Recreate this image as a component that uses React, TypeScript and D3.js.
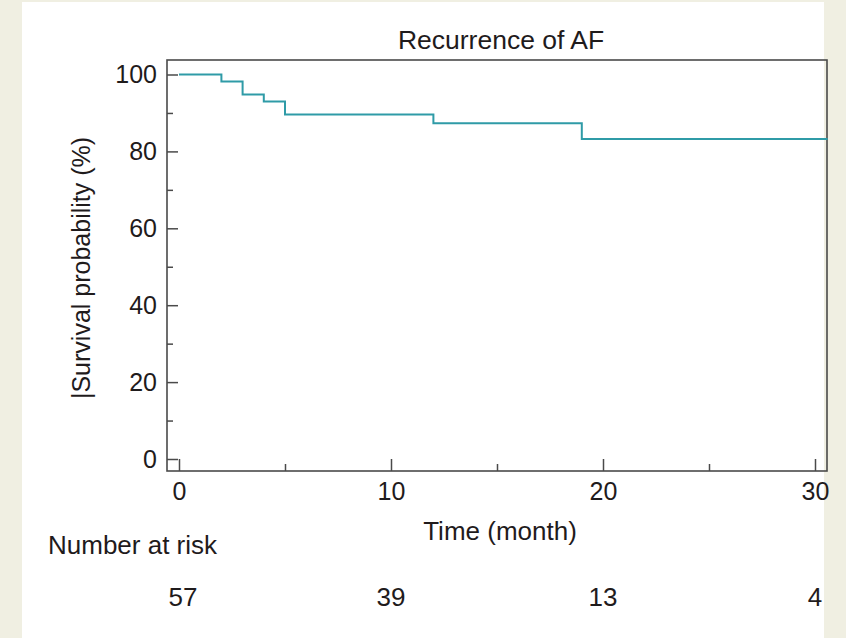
import React, { useEffect, useRef } from "react";
import * as d3 from "d3";

// Kaplan-Meier steps
const eventTimes = [0, 2, 3, 4, 5, 12, 19];
const survival = [100, 98.2, 94.8, 93.0, 89.6, 87.3, 83.2];
const lastFollowUp = 30.6;

const xMajorTicks = [0, 10, 20, 30];
const xMinorTicks = [5, 15, 25];
const yMajorTicks = [0, 20, 40, 60, 80, 100];
const yMinorTicks = [10, 30, 50, 70, 90];

const riskTimes = [0, 10, 20, 30];
const riskCounts = [57, 39, 13, 4];

const FONT = "'Liberation Sans', Arial, Helvetica, sans-serif";

const App = () => {
  const svgRef = useRef<SVGSVGElement>(null);

  useEffect(() => {
    const width = 846,
      height = 638;
    const frame = { left: 167, right: 827, top: 60, bottom: 471 };

    const x = d3.scaleLinear().domain([0, 30]).range([179, 815]);
    const y = d3.scaleLinear().domain([0, 100]).range([459, 74.5]);

    const svg = d3.select(svgRef.current);
    svg.selectAll("*").remove();
    svg.attr("width", width).attr("height", height);

    // page background and white panel
    svg.append("rect").attr("width", width).attr("height", height).attr("fill", "#f0efe2");
    svg
      .append("rect")
      .attr("x", 22)
      .attr("y", 2)
      .attr("width", 802)
      .attr("height", height)
      .attr("fill", "#ffffff");

    const ink = "#1f1b1c";
    const axisColor = "#4a4a4a";

    // title
    svg
      .append("text")
      .attr("x", 501)
      .attr("y", 49)
      .attr("text-anchor", "middle")
      .attr("font-family", FONT)
      .attr("font-size", 26.5)
      .attr("fill", ink)
      .text("Recurrence of AF");

    // y axis: major + minor inward ticks
    svg
      .append("g")
      .attr("transform", `translate(${frame.left},0)`)
      .call(d3.axisLeft(y).tickValues(yMajorTicks).tickSize(-11).tickPadding(10).tickFormat(d3.format("d")))
      .call((g) => g.select(".domain").remove())
      .call((g) => g.selectAll(".tick line").attr("stroke", axisColor).attr("stroke-width", 1.5))
      .call((g) =>
        g.selectAll("text").attr("fill", ink).attr("font-family", FONT).attr("font-size", 25)
      );
    svg
      .append("g")
      .attr("transform", `translate(${frame.left},0)`)
      .call(d3.axisLeft(y).tickValues(yMinorTicks).tickSize(-6).tickFormat(() => ""))
      .call((g) => g.select(".domain").remove())
      .call((g) => g.selectAll(".tick line").attr("stroke", axisColor).attr("stroke-width", 1.5));

    // x axis: major + minor inward ticks
    svg
      .append("g")
      .attr("transform", `translate(0,${frame.bottom})`)
      .call(d3.axisBottom(x).tickValues(xMajorTicks).tickSize(-12).tickPadding(11).tickFormat(d3.format("d")))
      .call((g) => g.select(".domain").remove())
      .call((g) => g.selectAll(".tick line").attr("stroke", axisColor).attr("stroke-width", 1.5))
      .call((g) =>
        g.selectAll("text").attr("fill", ink).attr("font-family", FONT).attr("font-size", 25)
      );
    svg
      .append("g")
      .attr("transform", `translate(0,${frame.bottom})`)
      .call(d3.axisBottom(x).tickValues(xMinorTicks).tickSize(-7).tickFormat(() => ""))
      .call((g) => g.select(".domain").remove())
      .call((g) => g.selectAll(".tick line").attr("stroke", axisColor).attr("stroke-width", 1.5));

    // frame
    svg
      .append("rect")
      .attr("x", frame.left)
      .attr("y", frame.top)
      .attr("width", frame.right - frame.left)
      .attr("height", frame.bottom - frame.top)
      .attr("fill", "none")
      .attr("stroke", axisColor)
      .attr("stroke-width", 1.6);

    // survival step curve
    const points: [number, number][] = eventTimes.map((t, i) => [t, survival[i]]);
    points.push([lastFollowUp, survival[survival.length - 1]]);
    const line = d3
      .line<[number, number]>()
      .x((d) => x(d[0]))
      .y((d) => y(d[1]))
      .curve(d3.curveStepAfter);
    svg
      .append("path")
      .datum(points)
      .attr("fill", "none")
      .attr("stroke", "#2f9ba7")
      .attr("stroke-width", 2)
      .attr("d", line);

    // axis titles
    svg
      .append("text")
      .attr("transform", `translate(90,268) rotate(-90)`)
      .attr("text-anchor", "middle")
      .attr("font-family", FONT)
      .attr("font-size", 25)
      .attr("fill", ink)
      .text("|Survival probability (%)");
    svg
      .append("text")
      .attr("x", 500)
      .attr("y", 540)
      .attr("text-anchor", "middle")
      .attr("font-family", FONT)
      .attr("font-size", 26)
      .attr("fill", ink)
      .text("Time (month)");

    // number at risk table
    svg
      .append("text")
      .attr("x", 48)
      .attr("y", 554)
      .attr("font-family", FONT)
      .attr("font-size", 26)
      .attr("fill", ink)
      .text("Number at risk");
    svg
      .selectAll(".risk")
      .data(riskCounts)
      .enter()
      .append("text")
      .attr("class", "risk")
      .attr("x", (d, i) => x(riskTimes[i]) + (i === 0 ? 4 : 0))
      .attr("y", 606)
      .attr("text-anchor", "middle")
      .attr("font-family", FONT)
      .attr("font-size", 26)
      .attr("fill", ink)
      .text((d) => d);
  }, []);

  return (
    <svg ref={svgRef} style={{ position: "absolute", left: 0, top: 0, display: "block" }}></svg>
  );
};

export default App;
